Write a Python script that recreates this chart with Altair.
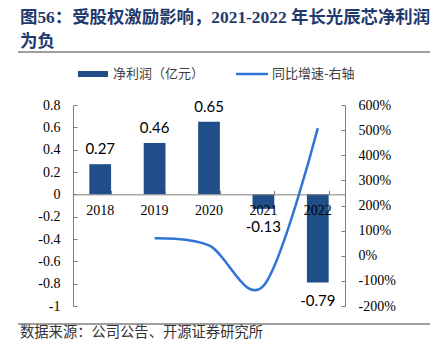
import altair as alt
import pandas as pd

# ---------------- data ----------------
years = ["2018", "2019", "2020", "2021", "2022"]
profit = [0.27, 0.46, 0.65, -0.13, -0.79]
profit_labels = ["0.27", "0.46", "0.65", "-0.13", "-0.79"]
growth_years = ["2019", "2020", "2021", "2022"]
growth = [70, 41, -120, 508]
left_ticks = [-1, -0.8, -0.6, -0.4, -0.2, 0, 0.2, 0.4, 0.6, 0.8]
right_ticks = [-200, -100, 0, 100, 200, 300, 400, 500, 600]
title_lines = ["图56：受股权激励影响，2021-2022 年长光辰芯净利润", "为负"]
legend_labels = ["净利润（亿元）", "同比增速-右轴"]
source_text = ["数据来源：公司公告、开源证券研究所"]

# ---------------- style ----------------
W, H = 272, 201
PAD_L, PAD_T = 73, 105
ZERO = H * 0.8 / 1.8
BAR_C = "#1F4E88"
LINE_C = "#2E75D6"
GREY = "#7F7F7F"
TITLE_C = "#1F3A6E"
SERIF = "'Liberation Serif', 'Noto Sans CJK SC'"
CJK = "'Noto Sans CJK SC'"
LABEL_FONT = "Lato"

df = pd.DataFrame({"year": years, "profit": profit, "label": profit_labels})
gdf = pd.DataFrame({"year": growth_years, "growth": growth})
one = pd.DataFrame({"a": [0]})

x_scale = alt.Scale(domain=years, paddingInner=0.6, paddingOuter=0.3)
yl_scale = alt.Scale(domain=[-1, 0.8], nice=False, zero=False)
yr_scale = alt.Scale(domain=[-200, 600], nice=False, zero=False)

x_main = alt.X("year:N", scale=x_scale, title=None,
               axis=alt.Axis(orient="bottom", offset=-(H - ZERO), labelAngle=0,
                             ticks=False, tickSize=0, domain=True, domainColor=GREY,
                             labelFont=SERIF, labelFontSize=14, labelColor="black",
                             labelPadding=9, grid=False, zindex=2))
x_ticks = alt.X("year:N", scale=x_scale, title=None,
                axis=alt.Axis(orient="top", offset=-ZERO, labels=False, ticks=True,
                              tickSize=4, tickBand="extent", domain=False,
                              tickColor=GREY, grid=False, zindex=2))
x_none = alt.X("year:N", scale=x_scale, axis=None)

y_left = alt.Y("profit:Q", scale=yl_scale, title=None,
               axis=alt.Axis(orient="left", values=left_ticks, labelExpr="'' + datum.value",
                             ticks=False, tickSize=0, grid=False, domain=True,
                             domainColor=GREY, labelPadding=13, labelFont=SERIF,
                             labelFontSize=14, labelColor="black"))
y_left_ticks = alt.Y("profit:Q", scale=yl_scale, title=None,
                     axis=alt.Axis(orient="right", offset=-W, values=left_ticks,
                                   labels=False, ticks=True, tickSize=4, domain=False,
                                   grid=False, tickColor=GREY))
y_left_none = alt.Y("profit:Q", scale=yl_scale, axis=None)

bars = alt.Chart(df).mark_bar(color=BAR_C).encode(x=x_main, y=y_left)
pos_text = alt.Chart(df).transform_filter("datum.profit > 0").mark_text(
    baseline="bottom", dy=-7, font=LABEL_FONT, fontSize=15, color="black"
).encode(x=x_ticks, y=y_left_ticks, text="label:N")
neg_text = alt.Chart(df).transform_filter("datum.profit < 0").mark_text(
    baseline="top", dy=11, font=LABEL_FONT, fontSize=15, color="black"
).encode(x=x_none, y=y_left_none, text="label:N")

group1 = alt.layer(bars, pos_text, neg_text).resolve_axis(x="independent", y="independent")

y_right = alt.Y("growth:Q", scale=yr_scale, title=None,
                axis=alt.Axis(orient="right", values=right_ticks,
                              labelExpr="datum.value + '%'", ticks=False, tickSize=0,
                              grid=False, domain=True, domainColor=GREY, labelPadding=13,
                              labelFont=SERIF, labelFontSize=14, labelColor="black"))
y_right_ticks = alt.Y("growth:Q", scale=yr_scale, title=None,
                      axis=alt.Axis(orient="left", offset=-W, values=right_ticks,
                                    labels=False, ticks=True, tickSize=4, domain=False,
                                    grid=False, tickColor=GREY))

line = alt.Chart(gdf).mark_line(color=LINE_C, strokeWidth=2.5, interpolate="cardinal").encode(
    x=x_none, y=y_right)
line_ticks = alt.Chart(gdf).mark_point(opacity=0).encode(x=x_none, y=y_right_ticks)
group2 = alt.layer(line, line_ticks).resolve_axis(y="independent")


def txt(s, x, y, **kw):
    return alt.Chart(pd.DataFrame({"t": [s]})).mark_text(align="left", baseline="middle", **kw).encode(
        text="t:N", x=alt.value(x), y=alt.value(y))


title1 = txt(title_lines[0], 20 - PAD_L, 18 - PAD_T, font=SERIF, fontWeight="bold",
             fontSize=17.4, color=TITLE_C)
title2 = txt(title_lines[1], 20 - PAD_L, 42 - PAD_T, font=SERIF, fontWeight="bold",
             fontSize=17.4, color=TITLE_C)
rule_top = alt.Chart(one).mark_rule(color="#404040", strokeWidth=1).encode(
    x=alt.value(18 - PAD_L), x2=alt.value(430 - PAD_L), y=alt.value(52 - PAD_T))
rule_bot = alt.Chart(one).mark_rule(color="#404040", strokeWidth=1).encode(
    x=alt.value(18 - PAD_L), x2=alt.value(430 - PAD_L), y=alt.value(324 - PAD_T))
leg_rect = alt.Chart(one).mark_rect(color=BAR_C).encode(
    x=alt.value(78 - PAD_L), x2=alt.value(108 - PAD_L),
    y=alt.value(71 - PAD_T), y2=alt.value(77 - PAD_T))
leg_line = alt.Chart(one).mark_rule(color=LINE_C, strokeWidth=2.5).encode(
    x=alt.value(236 - PAD_L), x2=alt.value(268 - PAD_L), y=alt.value(74 - PAD_T))
leg_t1 = txt(legend_labels[0], 113 - PAD_L, 74 - PAD_T, font=CJK, fontSize=13, color="#404040")
leg_t2 = txt(legend_labels[1], 272 - PAD_L, 74 - PAD_T, font=CJK, fontSize=13, color="#404040")
src = txt(source_text[0], 20 - PAD_L, 333 - PAD_T, font=CJK, fontSize=14.3, color="#333333")

chart = alt.layer(
    group1, group2, title1, title2, rule_top, rule_bot, leg_rect, leg_line, leg_t1, leg_t2, src
).resolve_scale(y="independent").properties(
    width=W, height=H,
    padding={"left": PAD_L, "top": PAD_T, "right": 445 - PAD_L - W, "bottom": 351 - PAD_T - H},
    autosize=alt.AutoSizeParams(type="none"),
).configure_view(stroke=None)

chart.save("out.html", embed_options={"renderer": "svg", "actions": False})
